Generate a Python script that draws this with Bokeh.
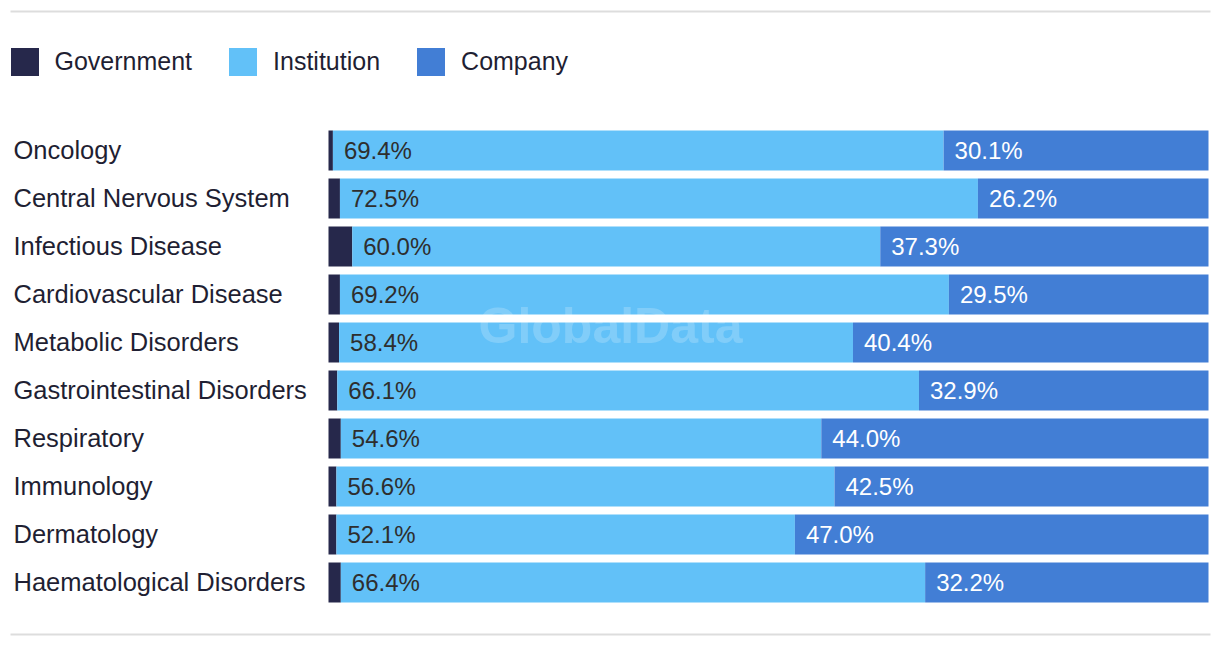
from bokeh.plotting import figure
from bokeh.models import ColumnDataSource, Range1d
from bokeh.embed import file_html
from bokeh.resources import INLINE
from bokeh.core.properties import value

# ---------------- data ----------------
categories = ["Oncology", "Central Nervous System", "Infectious Disease",
              "Cardiovascular Disease", "Metabolic Disorders",
              "Gastrointestinal Disorders", "Respiratory", "Immunology",
              "Dermatology", "Haematological Disorders"]
government = [0.5, 1.3, 2.7, 1.3, 1.2, 1.0, 1.4, 0.9, 0.9, 1.4]
institution = [69.4, 72.5, 60.0, 69.2, 58.4, 66.1, 54.6, 56.6, 52.1, 66.4]
company = [30.1, 26.2, 37.3, 29.5, 40.4, 32.9, 44.0, 42.5, 47.0, 32.2]
series_names = ["Government", "Institution", "Company"]
series_colors = ["#26284b", "#62c1f8", "#427ed5"]

# ---------------- layout ----------------
W, H = 1212, 640
PAGE = 0
BAR_L, BAR_R = 328, 1208
ROW0, ROW_STEP = 150, 48
FONT = "Liberation Sans"


def px_x(px):
    return (px - BAR_L) / (BAR_R - BAR_L) * 100.0


def px_y(py):
    return (py - ROW0) / ROW_STEP


p = figure(width=W, height=H, output_backend="svg", toolbar_location=None,
           x_range=Range1d(px_x(PAGE), px_x(PAGE + W)),
           y_range=Range1d(px_y(PAGE + H), px_y(PAGE)),
           x_axis_location=None, y_axis_location=None, min_border=0)
p.grid.visible = False
p.outline_line_color = None
p.background_fill_color = "white"

ys = list(range(len(categories)))
src = ColumnDataSource(dict(
    y=ys, cat=categories, gov=government, inst=institution, comp=company,
    inst_x=government,
    comp_x=[g + i for g, i in zip(government, institution)],
    inst_lbl=[f"{v:.1f}%" for v in institution],
    comp_lbl=[f"{v:.1f}%" for v in company],
))

p.hbar_stack(["gov", "inst", "comp"], y="y", height=40 / ROW_STEP,
             color=series_colors, line_width=0, source=src,
             legend_label=series_names)

# category labels
p.text(x=px_x(13), y="y", text="cat", source=src, y_offset=-1,
       text_baseline="middle", text_align="left",
       text_font=value(FONT), text_font_size="25.5px", text_color="#1f1f33")

# value labels
p.text(x="inst_x", y="y", text="inst_lbl", source=src, x_offset=11,
       text_baseline="middle", text_align="left",
       text_font=value(FONT), text_font_size="24px", text_color="#2e2e2e")
p.text(x="comp_x", y="y", text="comp_lbl", source=src, x_offset=11,
       text_baseline="middle", text_align="left",
       text_font=value(FONT), text_font_size="24px", text_color="#ffffff")

# watermark
p.text(x=[px_x(610)], y=[px_y(325)], text=["GlobalData"],
       text_align="center", text_baseline="middle",
       text_font=value(FONT), text_font_style="bold", text_font_size="50px",
       text_color="#ffffff", text_alpha=0.2)

# top and bottom rules
p.segment(x0=[px_x(10), px_x(10)], x1=[px_x(1210), px_x(1210)],
          y0=[px_y(11), px_y(634)], y1=[px_y(11), px_y(634)],
          line_color="#dddddd", line_width=2)

lg = p.legend[0]
lg.orientation = "horizontal"
lg.location = (6.5, H - 43.5 - 35)
lg.glyph_width = 35
lg.glyph_height = 35
lg.label_height = 35
lg.label_standoff = 13
lg.spacing = 33
lg.padding = 0
lg.margin = 0
lg.border_line_color = None
lg.background_fill_alpha = 0
lg.label_text_font = FONT
lg.label_text_font_size = "25px"
lg.label_text_color = "#1f1f33"

open("out.html", "w").write(file_html(p, INLINE))
